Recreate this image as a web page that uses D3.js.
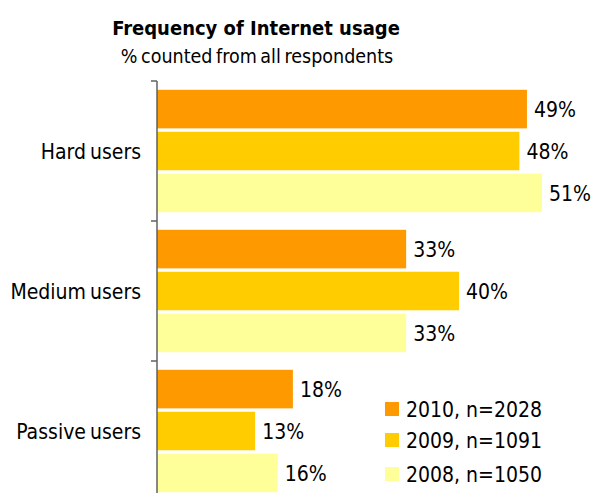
<!DOCTYPE html>
<html>
<head>
<meta charset="utf-8">
<script src="https://cdn.jsdelivr.net/npm/d3@7"></script>
<style>
  html, body { margin: 0; padding: 0; background: #fff; }
  svg text { font-family: "DejaVu Sans Condensed", "DejaVu Sans", sans-serif; font-stretch: condensed; fill: #000; }
</style>
</head>
<body>
<svg id="chart" width="597" height="493"></svg>
<script>
const categories = ["Hard users", "Medium users", "Passive users"];
const seriesNames = ["2010, n=2028", "2009, n=1091", "2008, n=1050"];
const values2010 = [49, 33, 18];
const values2009 = [48, 40, 13];
const values2008 = [51, 33, 16];
const seriesValues = [values2010, values2009, values2008];
const colors = ["#FF9900", "#FFCC00", "#FFFF99"];

const svg = d3.select("#chart");
const W = 597, H = 493;

// Title
svg.append("text").attr("x", 256).attr("y", 35).attr("text-anchor", "middle")
  .style("font-weight", "bold").style("font-size", "20px").text("Frequency of Internet usage");
svg.append("text").attr("x", 257).attr("y", 63).attr("text-anchor", "middle")
  .style("font-size", "19.5px").style("word-spacing", "-2px").text("% counted from all respondents");

const axisX = 157;
const x = d3.scaleLinear().domain([0, 60]).range([axisX, axisX + 453]);
const y = d3.scaleBand().domain(categories).range([81, 501]);
const yInner = d3.scaleBand().domain(d3.range(seriesNames.length))
  .range([0, y.bandwidth()]).paddingInner(0.08).paddingOuter(0.21);

const g = svg.append("g");
categories.forEach((cat, ci) => {
  const grp = g.append("g").attr("transform", `translate(0,${y(cat)})`);
  seriesValues.forEach((vals, si) => {
    const v = vals[ci];
    grp.append("rect")
      .attr("x", x(0)).attr("y", yInner(si))
      .attr("width", x(v) - x(0)).attr("height", yInner.bandwidth())
      .attr("fill", colors[si]);
    grp.append("text")
      .attr("x", x(v) + 7).attr("y", yInner(si) + yInner.bandwidth() / 2)
      .attr("dy", "0.38em").style("font-size", "21px").text(v + "%");
  });
});

// Category axis
const axis = d3.axisLeft(y).tickSize(0).tickPadding(16);
const ax = svg.append("g").attr("transform", `translate(${axisX},0)`).call(axis);
ax.select(".domain").remove();
ax.selectAll("text").style("font-size", "21px").style("word-spacing", "-2px").attr("dy", "0.38em");
ax.append("line").attr("x1", 0).attr("x2", 0).attr("y1", 81).attr("y2", H)
  .attr("stroke", "#606060").attr("stroke-width", 1.5);
categories.forEach(cat => {
  ax.append("line").attr("x1", -6).attr("x2", 0).attr("y1", y(cat)).attr("y2", y(cat))
    .attr("stroke", "#606060").attr("stroke-width", 1.5);
});

// Legend
const legendY = [409, 440, 474];
const lg = svg.append("g");
seriesNames.forEach((name, i) => {
  lg.append("rect").attr("x", 385).attr("y", legendY[i] - 7).attr("width", 14).attr("height", 14)
    .attr("fill", colors[i]);
  lg.append("text").attr("x", 406).attr("y", legendY[i]).attr("dy", "0.38em")
    .style("font-size", "21px").text(name);
});
</script>
</body>
</html>
